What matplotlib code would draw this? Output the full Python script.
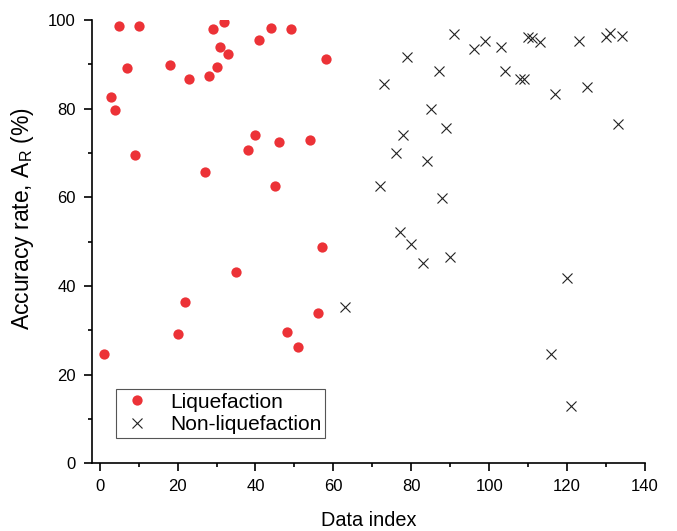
import matplotlib
matplotlib.use("Agg")
import matplotlib.pyplot as plt
from matplotlib.ticker import MultipleLocator

plt.rcParams["font.family"] = ["Liberation Sans", "DejaVu Sans"]

# accuracy rate per data index, split by case type
liq_idx = [1, 3, 4, 5, 7, 9, 10, 18, 20, 22, 23, 27, 28, 29, 30, 31,
           32, 33, 35, 38, 40, 41, 44, 45, 46, 48, 49, 51, 54, 56, 57, 58]
liq_acc = [24.7, 82.6, 79.6, 98.6, 89.1, 69.5, 98.6, 89.8, 29.2, 36.5, 86.7,
           65.8, 87.3, 97.9, 89.3, 93.9, 99.5, 92.4, 43.2, 70.7, 74.1, 95.5,
           98.1, 62.6, 72.4, 29.7, 97.9, 26.3, 72.9, 34.0, 48.8, 91.1]

nonliq_idx = [63, 72, 73, 76, 77, 78, 79, 80, 83, 84, 85, 87, 88, 89, 90,
              91, 96, 99, 103, 104, 108, 109, 110, 111, 113, 116, 117, 120,
              121, 123, 125, 130, 131, 133, 134]
nonliq_acc = [35.2, 62.6, 85.6, 69.9, 52.2, 74.0, 91.7, 49.4, 45.2, 68.2,
              79.9, 88.5, 59.8, 75.6, 46.5, 96.8, 93.5, 95.2, 94.0, 88.5,
              86.6, 86.6, 96.2, 96.0, 95.1, 24.7, 83.3, 41.7, 12.9, 95.3,
              84.8, 96.2, 97.0, 76.6, 96.4]

fig = plt.figure(figsize=(6.77, 5.31), dpi=100)
ax = fig.add_axes([0.1354, 0.1275, 0.8173, 0.8348])

ax.plot(liq_idx, liq_acc, linestyle="none", marker="o", markersize=7.4,
        color="#ec3237", markeredgewidth=0, label="Liquefaction")
ax.plot(nonliq_idx, nonliq_acc, linestyle="none", marker="x", markersize=6.8,
        markeredgewidth=0.8, color="#222222", label="Non-liquefaction")

ax.set_xlim(-2.05, 140)
ax.set_ylim(0, 100)
ax.xaxis.set_major_locator(MultipleLocator(20))
ax.xaxis.set_minor_locator(MultipleLocator(10))
ax.yaxis.set_major_locator(MultipleLocator(20))
ax.yaxis.set_minor_locator(MultipleLocator(10))

for side in ("top", "right"):
    ax.spines[side].set_visible(False)
for side in ("left", "bottom"):
    ax.spines[side].set_linewidth(1.2)

ax.tick_params(which="major", direction="out", length=5.5, width=1.2,
               labelsize=12, pad=6)
ax.tick_params(which="minor", direction="out", length=3, width=1.2)

ax.set_xlabel("Data index", fontsize=14.3, labelpad=12)
ax.set_ylabel("Accuracy rate, A$_\\mathregular{R}$ (%)", fontsize=16.5)
ax.yaxis.set_label_coords(-0.1, 0.553)

leg = ax.legend(loc="lower left", bbox_to_anchor=(0.0436, 0.057),
                borderaxespad=0, fontsize=15, fancybox=False, framealpha=1,
                edgecolor="#555555", handletextpad=0.8, borderpad=0.2,
                labelspacing=0.15, handlelength=1.6)
leg.get_frame().set_linewidth(0.8)

fig.savefig("out.png", dpi=100)
